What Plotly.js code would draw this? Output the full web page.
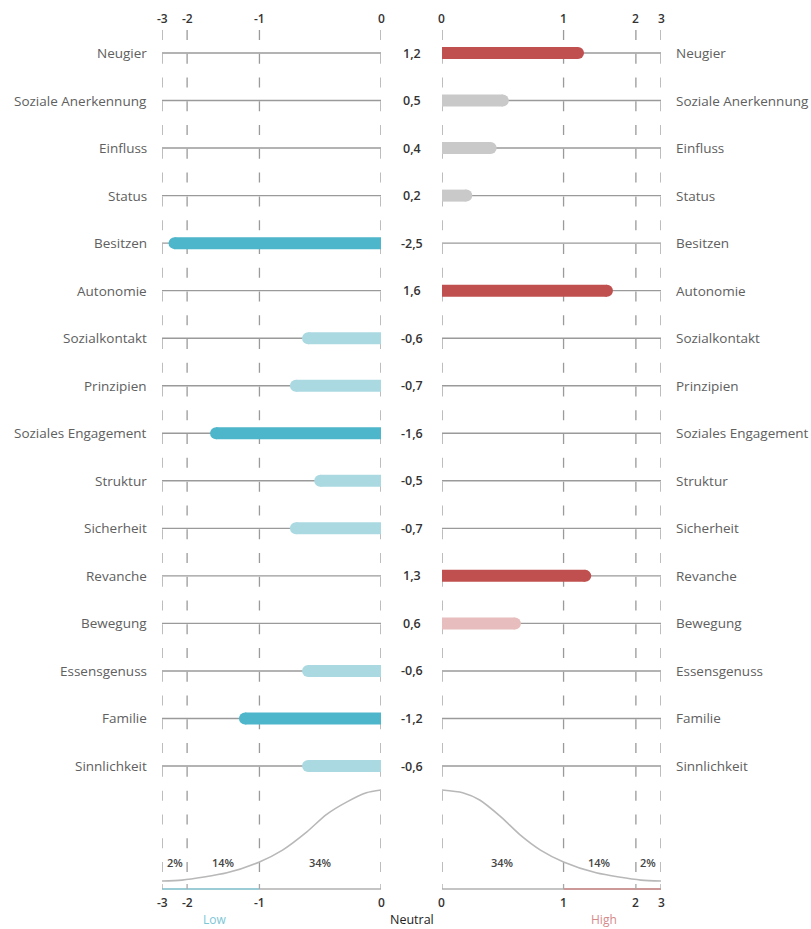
<!DOCTYPE html>
<html>
<head>
<meta charset="utf-8">
<script src="https://cdn.plot.ly/plotly-3.0.1.min.js"></script>
<style>html,body{margin:0;padding:0;background:#fff;}#chart{width:811px;height:929px;}</style>
</head>
<body>
<div id="chart"></div>
<script>
// ---------- data ----------
const categories = ["Neugier","Soziale Anerkennung","Einfluss","Status","Besitzen","Autonomie","Sozialkontakt","Prinzipien","Soziales Engagement","Struktur","Sicherheit","Revanche","Bewegung","Essensgenuss","Familie","Sinnlichkeit"];
const values = [1.2,0.5,0.4,0.2,-2.5,1.6,-0.6,-0.7,-1.6,-0.5,-0.7,1.3,0.6,-0.6,-1.2,-0.6];
const barColors = ["#c0504f","#c9c9c9","#c9c9c9","#c9c9c9","#4eb6ca","#c0504f","#abd9e2","#abd9e2","#4eb6ca","#abd9e2","#abd9e2","#c0504f","#e8bdbe","#abd9e2","#4eb6ca","#abd9e2"];
const leftTicks = [-3,-2,-1,0];
const rightTicks = [0,1,2,3];
const leftCurveX = [-3,-2.2,-1.45,-1,-0.81,-0.61,-0.45,-0.28,-0.12,0];
const leftCurveH = [0,0.01,0.09,0.21,0.34,0.54,0.73,0.87,0.97,1.0];
const rightCurveX = [0,0.17,0.31,0.48,0.64,0.81,1,1.45,2.2,3];
const rightCurveH = [1.0,0.97,0.89,0.71,0.51,0.34,0.21,0.09,0.01,0];
const leftPct = [["2%",-2.5],["14%",-1.5],["34%",-0.5]];
const rightPct = [["34%",0.5],["14%",1.5],["2%",2.5]];

// ---------- scale (piecewise, as in the picture) ----------
const segPx = [121, 72, 25];         // pixel length of 0-1, 1-2, 2-3
function g(a){ let r=0; for(let i=0;i<3;i++){ const s=Math.min(Math.max(a-i,0),1); r+=s*segPx[i]; } return r; }
function f(v){ return v<0 ? -g(-v) : g(v); }
const fmax = g(3);

const W=811, H=929;
const ppu = (766-53)/15;
const yTop = -53/ppu, yBot = 15 + (H-766)/ppu;
function py(p){ return yTop + p/ppu; }   // layout position helper

const rows = categories.map((c,i)=>i);
const gridCol = "#9a9a9a";
const textCol = "#606060";
const font = "Open Sans, sans-serif";

const traces = [];
// bars: thick line from 0 to value with a round end
values.forEach((v,i)=>{
  const ax = v<0 ? 'x' : 'x2';
  traces.push({type:'scatter', mode:'lines', xaxis:ax, yaxis:'y',
    x:[0, f(v)], y:[i,i], line:{color:barColors[i], width:12}, hoverinfo:'skip'});
  traces.push({type:'scatter', mode:'markers', xaxis:ax, yaxis:'y',
    x:[f(v)], y:[i], marker:{color:barColors[i], size:12, line:{width:0}}, hoverinfo:'skip'});
});

// curves
const baseY = py(881), curveScale = (881-790)/ppu;
traces.push({type:'scatter', mode:'lines', xaxis:'x', yaxis:'y',
  x:leftCurveX.map(f), y:leftCurveH.map(h=>baseY-h*curveScale),
  line:{color:"#b8b8b8", width:1.6, shape:'spline', smoothing:0.7}, hoverinfo:'skip'});
traces.push({type:'scatter', mode:'lines', xaxis:'x2', yaxis:'y',
  x:rightCurveX.map(f), y:rightCurveH.map(h=>baseY-h*curveScale),
  line:{color:"#b8b8b8", width:1.6, shape:'spline', smoothing:0.7}, hoverinfo:'skip'});

const shapes = [];
const annotations = [];
// dashed verticals
leftTicks.forEach(t=>shapes.push({type:'line', xref:'x', yref:'y', x0:f(t), x1:f(t), y0:py(30), y1:py(884), line:{color:gridCol, width:1.3, dash:'10px,13.77px'}, layer:'below'}));
rightTicks.forEach(t=>shapes.push({type:'line', xref:'x2', yref:'y', x0:f(t), x1:f(t), y0:py(30), y1:py(884), line:{color:gridCol, width:1.3, dash:'10px,13.77px'}, layer:'below'}));
// row lines
rows.forEach(i=>{
  shapes.push({type:'line', xref:'x', yref:'y', x0:-fmax, x1:0, y0:i, y1:i, line:{color:gridCol, width:1.4}, layer:'below'});
  shapes.push({type:'line', xref:'x2', yref:'y', x0:0, x1:fmax, y0:i, y1:i, line:{color:gridCol, width:1.4}, layer:'below'});
});
// bottom axes
const axY = py(889);
shapes.push({type:'line', xref:'x', yref:'y', x0:-fmax, x1:0, y0:axY, y1:axY, line:{color:"#b0b0b0", width:1.6}});
shapes.push({type:'line', xref:'x', yref:'y', x0:-fmax, x1:f(-1), y0:axY, y1:axY, line:{color:"#8fcfdc", width:1.6}});
shapes.push({type:'line', xref:'x2', yref:'y', x0:0, x1:fmax, y0:axY, y1:axY, line:{color:"#b0b0b0", width:1.6}});
shapes.push({type:'line', xref:'x2', yref:'y', x0:f(1), x1:fmax, y0:axY, y1:axY, line:{color:"#d08a8a", width:1.6}});
[[leftTicks,'x'],[rightTicks,'x2']].forEach(([ts,ax])=>ts.forEach(t=>{
  shapes.push({type:'line', xref:ax, yref:'y', x0:f(t), x1:f(t), y0:py(884), y1:axY, line:{color:"#a8a8a8", width:1.3}});
}));

// category labels & values
categories.forEach((c,i)=>{
  annotations.push({xref:'paper', yref:'y', x:149/W, y:i, text:c, xanchor:'right', yanchor:'middle', showarrow:false, font:{family:font, size:13.5, color:textCol}});
  annotations.push({xref:'paper', yref:'y', x:674/W, y:i, text:c, xanchor:'left', yanchor:'middle', showarrow:false, font:{family:font, size:13.5, color:textCol}});
  annotations.push({xref:'paper', yref:'y', x:412/W, y:i, text:values[i].toFixed(1).replace('.',','), xanchor:'center', yanchor:'middle', showarrow:false, font:{family:font, size:12.5, color:"#333", weight:600}});
});
// tick labels top & bottom
[[leftTicks,'x'],[rightTicks,'x2']].forEach(([ts,ax])=>{
  ts.forEach(t=>{
    annotations.push({xref:ax, yref:'y', x:f(t), y:py(18), text:String(t), showarrow:false, xanchor:'center', yanchor:'middle', font:{family:font, size:12, color:"#333", weight:600}});
    annotations.push({xref:ax, yref:'y', x:f(t), y:py(902), text:String(t), showarrow:false, xanchor:'center', yanchor:'middle', font:{family:font, size:12, color:"#333", weight:600}});
  });
});
// percent labels
leftPct.forEach(([s,v])=>annotations.push({xref:'x', yref:'y', x:f(v), y:py(862), text:s, showarrow:false, font:{family:font, size:11, color:"#444", weight:600}}));
rightPct.forEach(([s,v])=>annotations.push({xref:'x2', yref:'y', x:f(v), y:py(862), text:s, showarrow:false, font:{family:font, size:11, color:"#444", weight:600}}));
// Low / Neutral / High
annotations.push({xref:'paper', yref:'y', x:201/W, y:py(919), text:"Low", showarrow:false, font:{family:font, size:12, color:"#7cc6d6"}});
annotations.push({xref:'paper', yref:'y', x:412/W, y:py(919), text:"Neutral", showarrow:false, font:{family:font, size:12.5, color:"#222"}});
annotations.push({xref:'paper', yref:'y', x:619/W, y:py(919), text:"High", showarrow:false, font:{family:font, size:12, color:"#d48a8a"}});

const axCommon = {showgrid:false, zeroline:false, showticklabels:false, ticks:'', showline:false, fixedrange:true};
const layout = {
  width:W, height:H, margin:{l:0,r:0,t:0,b:0}, paper_bgcolor:'#fff', plot_bgcolor:'rgba(0,0,0,0)',
  showlegend:false,
  xaxis: Object.assign({domain:[162/W, 381/W], range:[-fmax,0], anchor:'y'}, axCommon),
  xaxis2: Object.assign({domain:[442/W, 661/W], range:[0,fmax], anchor:'y'}, axCommon),
  yaxis: Object.assign({domain:[0,1], range:[yBot, yTop]}, axCommon),
  shapes: shapes, annotations: annotations
};
Plotly.newPlot('chart', traces, layout, {staticPlot:true, displayModeBar:false});
</script>
</body>
</html>
